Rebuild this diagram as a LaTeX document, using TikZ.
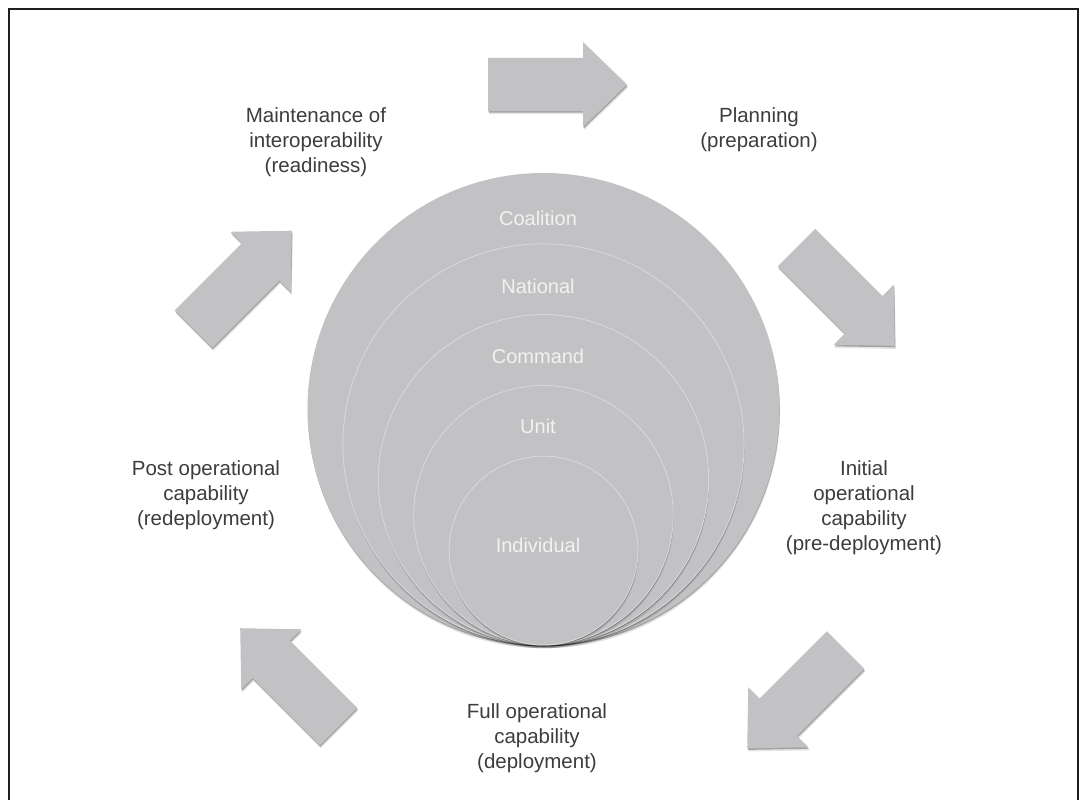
\documentclass[tikz,border=0pt]{standalone}
\usepackage{fontspec}
\setmainfont{Liberation Sans}
\definecolor{shapegray}{HTML}{C2C2C4}
\definecolor{textgray}{HTML}{3D3D3D}
\definecolor{labelwhite}{HTML}{F2F2F2}
\definecolor{rimlight}{HTML}{D8D8DA}
\definecolor{framecol}{HTML}{1E1E1E}
\newcommand{\blockarrowat}[3]{%
  \fill[black,opacity=0.10,shift={(1,3.2)},shift={(#1,#2)},rotate=#3]
    (0,26.5) -- (95,26.5) -- (95,42.5) -- (139,0) -- (95,-42.5) -- (95,-26.5) -- (0,-26.5) -- cycle;
  \fill[black,opacity=0.28,shift={(0.6,1.6)},shift={(#1,#2)},rotate=#3]
    (0,26.5) -- (95,26.5) -- (95,42.5) -- (139,0) -- (95,-42.5) -- (95,-26.5) -- (0,-26.5) -- cycle;
  \fill[shapegray,shift={(#1,#2)},rotate=#3]
    (0,26.5) -- (95,26.5) -- (95,42.5) -- (139,0) -- (95,-42.5) -- (95,-26.5) -- (0,-26.5) -- cycle;
}
\newcommand{\ringat}[2]{%
  \fill[black,opacity=0.10] (544,645-#1+3.2) circle (#1pt);
  \fill[black,opacity=0.28] (543.8,645-#1+1.5) circle (#1pt);
  \fill[shapegray] (543.5,645-#1) circle (#1pt);
  \ifnum#2=1 \draw[rimlight,line width=0.9pt] (543.5,645-#1) circle (#1pt);\fi
}
\tikzset{
  phase/.style={align=center,text=textgray,inner sep=0pt,anchor=north,
    font=\fontsize{20.5}{25}\selectfont},
  level/.style={text=labelwhite,inner sep=0pt,anchor=base,
    font=\fontsize{20}{24}\selectfont}
}
\begin{document}
\begin{tikzpicture}[x=1pt,y=-1pt]
\useasboundingbox (0,0) rectangle (1087,800);
\fill[white] (0,0) rectangle (1087,800);
\draw[framecol,line width=1.4pt] (9,800) -- (9,9) -- (1078,9) -- (1078,800);

% nested circles
\ringat{236}{0}
\ringat{200.6}{1}
\ringat{165.2}{1}
\ringat{129.8}{1}
\ringat{94.4}{1}

\node[level] (coalition) at (538,225) {Coalition};
\node[level] (national) at (538,293) {National};
\node[level] (command) at (538,363) {Command};
\node[level] (unit) at (538,433) {Unit};
\node[level] (individual) at (538,552) {Individual};

% block arrows
\blockarrowat{488}{84.5}{0}
\blockarrowat{796.5}{247.5}{-45}
\blockarrowat{845.5}{650}{-135}
\blockarrowat{338.5}{726.5}{135}
\blockarrowat{193.5}{329}{45}

% phase labels
\node[phase] (maint) at (316,107) {Maintenance of\\interoperability\\(readiness)};
\node[phase] (plan) at (759,107) {Planning\\(preparation)};
\node[phase] (init) at (864,460) {Initial\\operational\\capability\\(pre-deployment)};
\node[phase] (full) at (537,703) {Full operational\\capability\\(deployment)};
\node[phase] (post) at (206,460) {Post operational\\capability\\(redeployment)};
\end{tikzpicture}
\end{document}
